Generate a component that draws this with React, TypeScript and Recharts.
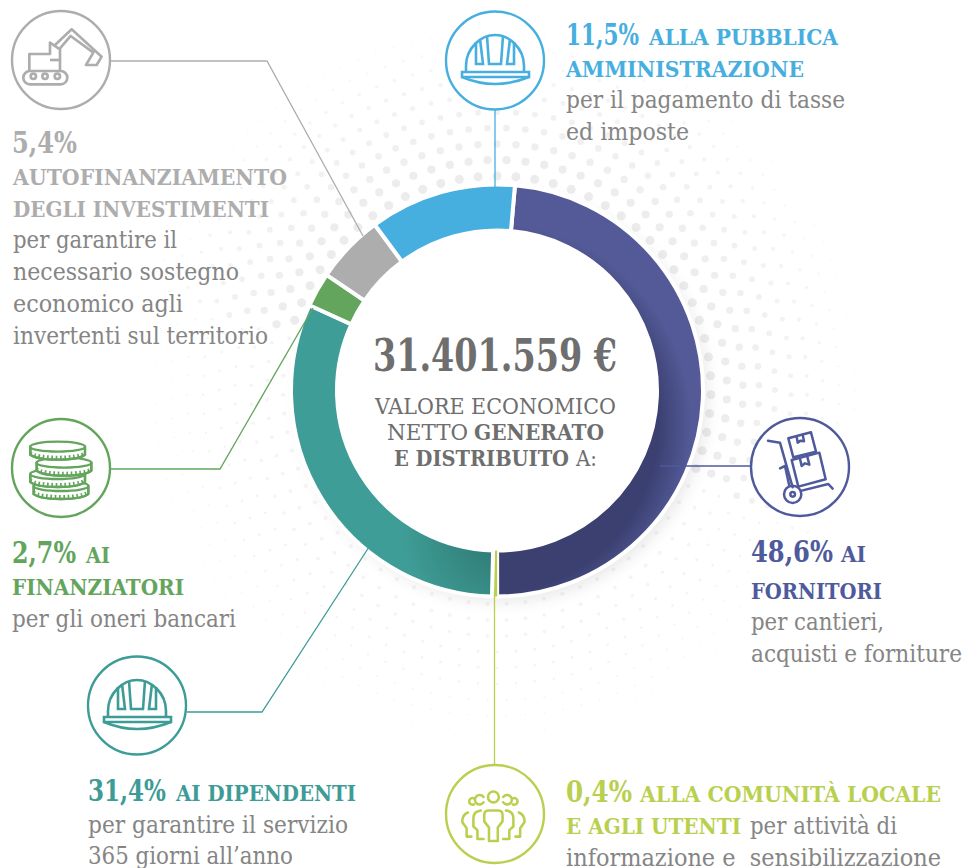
import React from 'react';
import { Cell, Pie, PieChart } from 'recharts';

const categories = ['Fornitori', 'Comunità locale e utenti', 'Dipendenti', 'Finanziatori', 'Autofinanziamento', 'Pubblica amministrazione'];
const shares = [48.6, 0.4, 31.4, 2.7, 5.4, 11.5];
const colors = ['url(#navyGrad)', '#b9d04f', 'url(#tealGrad)', '#63a55c', '#aeadae', '#46afe0'];
const total = '31.401.559 €';

const NAVY = '#4f5a9c';
const LIME = '#b9d04f';
const TEAL = '#3d9c96';
const GREEN = '#63a55c';
const GRAY = '#aeadad';
const BLUE = '#46afe0';
const BODY = '#858585';
const DARK = '#6e6e6e';

const tableData = categories.map((name, i) => ({ name, value: shares[i] }));
const pct = (v: number) => `${String(v).replace('.', ',')}%`;

// halftone dots behind the ring, decoration only
const dots: { x: number; y: number; r: number; o: number }[] = [];
for (let i = 0; i < 10; i++) {
  const rad = 214 + i * 16;
  const n = Math.round((2 * Math.PI * rad) / 19);
  for (let k = 0; k < n; k++) {
    const a = ((k + (i % 2) * 0.5) / n) * 2 * Math.PI;
    const deg = (a * 180) / Math.PI;
    const strong = deg < 115 || deg > 285;
    const r = strong ? (1 - i / 10) * 4 + 0.5 : (1 - i / 10) * 1.8 + 0.3;
    dots.push({ x: 497 + Math.sin(a) * rad, y: 390 - Math.cos(a) * rad, r, o: strong ? 1 - i * 0.07 : 0.6 });
  }
}

function T({ x, y, w, s, c, b, children }: any) {
  return (
    <text
      x={x}
      y={y}
      fontFamily="'DejaVu Serif Condensed', 'DejaVu Serif', serif"
      fontSize={s}
      fontWeight={b ? 700 : 400}
      fill={c}
      textLength={w}
      lengthAdjust="spacingAndGlyphs"
    >
      {children}
    </text>
  );
}

function Ring({ cx, cy, c }: any) {
  return <circle cx={cx} cy={cy} r={49} fill="#fff" stroke={c} strokeWidth={2.4} />;
}

function Helmet({ cx, cy, c }: any) {
  return (
    <g transform={`translate(${cx},${cy})`} fill="none" stroke={c} strokeWidth={2.6}>
      <path d="M-33,12 H34 V17 H-33 Z" />
      <path d="M-33,17 Q0,31 34,17" />
      <path d="M-29,12 V6 C-29,-12 -14,-25 0,-25 C14,-25 29,-12 29,6 V12" />
      <path d="M-8,-24 L-6,4 H6 L8,-24" />
      <path d="M-19,-18 V4 H-12 L-15,-21" />
      <path d="M19,-18 V4 H12 L15,-21" />
    </g>
  );
}

function Excavator() {
  return (
    <g transform="scale(0.3333)" fill="none" stroke={GRAY} strokeWidth={8} strokeLinejoin="round">
      <rect x={70} y={213} width={132} height={40} rx={20} />
      <circle cx={100} cy={229} r={8} />
      <circle cx={135} cy={229} r={8} />
      <circle cx={172} cy={229} r={8} />
      <path d="M88,210 V162 H150 V128 L180,148 V210" />
      <path d="M150,180 H180" />
      <path d="M165,135 L215,88 L305,170 L290,195 H258 L280,158 L212,108 L180,145" />
    </g>
  );
}

function Cart() {
  return (
    <g transform="translate(730,400) scale(0.3333)" fill="none" stroke={NAVY} strokeWidth={7.5} strokeLinejoin="round" strokeLinecap="round">
      <path d="M175,115 L243,97 L258,155 L190,172 Z" />
      <path d="M185,180 L268,158 L287,238 L205,260 Z" />
      <path d="M200,110 L203,128 L212,122 L222,124 L218,104" />
      <path d="M210,176 L215,198 L225,190 L238,194 L232,170" />
      <path d="M114,122 L150,128 L188,262" />
      <path d="M150,205 L165,198 L178,258" />
      <path d="M215,272 L295,252 L308,266" />
      <circle cx={188} cy={283} r={26} />
      <circle cx={188} cy={283} r={7} />
    </g>
  );
}

function Coin({ cx, cy }: any) {
  return (
    <g>
      <path
        d={`M${cx - 82},${cy} V${cy + 24} C${cx - 60},${cy + 44} ${cx + 60},${cy + 44} ${cx + 82},${cy + 24} V${cy} Z`}
        fill="#fff"
      />
      <path d={`M${cx - 82},${cy + 20} C${cx - 60},${cy + 38} ${cx + 60},${cy + 38} ${cx + 82},${cy + 20}`} strokeWidth={13} strokeDasharray="5 8" />
      <path d={`M${cx - 82},${cy} V${cy + 24} C${cx - 60},${cy + 44} ${cx + 60},${cy + 44} ${cx + 82},${cy + 24} V${cy}`} />
      <ellipse cx={cx} cy={cy} rx={82} ry={15} fill="#fff" />
    </g>
  );
}

function Coins() {
  return (
    <g transform="translate(0,400) scale(0.3333)" fill="none" stroke={GREEN} strokeWidth={7}>
      <Coin cx={183} cy={258} />
      <Coin cx={173} cy={222} />
      <Coin cx={192} cy={188} />
      <Coin cx={173} cy={140} />
    </g>
  );
}

function People() {
  return (
    <g transform="translate(430,740) scale(0.339)" fill="none" stroke={LIME} strokeWidth={7.5} strokeLinejoin="round" strokeLinecap="round">
      <circle cx={187} cy={168} r={16} />
      <path d="M158,168 A14,14 0 1 0 158,184" />
      <path d="M216,168 A14,14 0 1 1 216,184" />
      <path d="M130,172 A10,10 0 1 0 130,190" />
      <path d="M244,172 A10,10 0 1 1 244,190" />
      <path d="M172,208 H202 Q214,208 214,222 V240 L200,258 V298 H174 V258 L160,240 V222 Q160,208 172,208 Z" />
      <path d="M150,208 Q128,210 128,232 V255 L140,266 V292 H158" />
      <path d="M224,208 Q246,210 246,232 V255 L234,266 V292 H216" />
      <path d="M112,214 Q95,220 95,242 L108,260 V285 H122" />
      <path d="M262,214 Q279,220 279,242 L266,260 V285 H252" />
    </g>
  );
}

export default function App() {
  return (
    <div style={{ position: 'absolute', left: 0, top: 0, width: 969, height: 868, overflow: 'hidden', background: '#fff' }}>
      <svg width={969} height={868} style={{ position: 'absolute', left: 0, top: 0 }}>
        <defs>
          <radialGradient id="navyGrad" gradientUnits="userSpaceOnUse" cx={490} cy={425} r={210}>
            <stop offset="0%" stopColor="#3b4071" />
            <stop offset="80%" stopColor="#3b4071" />
            <stop offset="96%" stopColor="#535a97" />
            <stop offset="100%" stopColor="#535a97" />
          </radialGradient>
          <radialGradient id="tealGrad" gradientUnits="userSpaceOnUse" cx={505} cy={530} r={105}>
            <stop offset="0%" stopColor="#2c736e" />
            <stop offset="100%" stopColor="#3f9d97" />
          </radialGradient>
          <filter id="soft" x="-20%" y="-20%" width="140%" height="140%">
            <feGaussianBlur stdDeviation="9" />
          </filter>
        </defs>
        <g fill="#ececec">
          {dots.map((d, i) => (
            <circle key={i} cx={d.x} cy={d.y} r={d.r} opacity={d.o} />
          ))}
        </g>
        <circle cx={503} cy={397} r={203} fill="#000" opacity={0.1} filter="url(#soft)" />
        <circle cx={497} cy={390.5} r={170} fill="#fff" />
      </svg>

      <div style={{ position: 'absolute', left: 0, top: 0 }}>
        <PieChart width={969} height={868} margin={{ top: 0, right: 0, bottom: 0, left: 0 }}>
          <Pie
            data={tableData}
            dataKey="value"
            cx={497}
            cy={390.5}
            innerRadius={160}
            outerRadius={206}
            startAngle={85}
            endAngle={-275}
            stroke="#fff"
            strokeWidth={4}
            isAnimationActive={false}
          >
            {tableData.map((d, i) => (
              <Cell key={d.name} fill={colors[i]} stroke={i === 1 ? 'none' : '#fff'} />
            ))}
          </Pie>
        </PieChart>
      </div>

      <svg width={969} height={868} style={{ position: 'absolute', left: 0, top: 0 }}>
        <g fill="none" strokeWidth={1.3}>
          <path d="M111,61 H267 L363,236" stroke={GRAY} />
          <path d="M495,110 V205" stroke={BLUE} />
          <path d="M751,466 H660" stroke={NAVY} />
          <path d="M111,469 H220 L313,308" stroke={GREEN} />
          <path d="M187,712 H262 L369,547" stroke={TEAL} />
          <path d="M494.5,764 V592" stroke={LIME} />
        </g>

        <Ring cx={61} cy={60} c={GRAY} />
        <Excavator />
        <Ring cx={495} cy={60.5} c={BLUE} />
        <Helmet cx={495} cy={60} c={BLUE} />
        <Ring cx={800} cy={467} c={NAVY} />
        <Cart />
        <Ring cx={61} cy={468} c={GREEN} />
        <Coins />
        <Ring cx={137} cy={705.5} c={TEAL} />
        <Helmet cx={137} cy={705} c={TEAL} />
        <Ring cx={495} cy={814} c={LIME} />
        <People />

        <T x={373} y={371} w={244} s={44} c={DARK} b>{total}</T>
        <T x={375} y={414} w={241} s={22} c={DARK}>VALORE ECONOMICO</T>
        <T x={387} y={440} w={81} s={22} c={DARK}>NETTO</T>
        <T x={474} y={440} w={130} s={22} c={DARK} b>GENERATO</T>
        <T x={394} y={466} w={175} s={22} c={DARK} b>E DISTRIBUITO</T>
        <T x={576} y={466} w={21} s={22} c={DARK}>A:</T>

        <T x={12} y={153} w={65} s={30} c={GRAY} b>{pct(shares[4])}</T>
        <T x={13} y={185} w={274} s={23} c={GRAY} b>AUTOFINANZIAMENTO</T>
        <T x={13} y={217} w={256} s={23} c={GRAY} b>DEGLI INVESTIMENTI</T>
        <T x={13} y={248} w={164} s={24} c={BODY}>per garantire il</T>
        <T x={13} y={280} w={226} s={24} c={BODY}>necessario sostegno</T>
        <T x={13} y={312} w={170} s={24} c={BODY}>economico agli</T>
        <T x={13} y={344} w={255} s={24} c={BODY}>invertenti sul territorio</T>

        <T x={566} y={45} w={73} s={30} c={BLUE} b>{pct(shares[5])}</T>
        <T x={649} y={45} w={189} s={23} c={BLUE} b>ALLA PUBBLICA</T>
        <T x={566} y={77} w={238} s={23} c={BLUE} b>AMMINISTRAZIONE</T>
        <T x={566} y={108} w={279} s={24} c={BODY}>per il pagamento di tasse</T>
        <T x={566} y={140} w={123} s={24} c={BODY}>ed imposte</T>

        <T x={751} y={562} w={82} s={30} c={NAVY} b>{pct(shares[0])}</T>
        <T x={841} y={562} w={25} s={23} c={NAVY} b>AI</T>
        <T x={751} y={599} w={131} s={23} c={NAVY} b>FORNITORI</T>
        <T x={751} y={630} w={133} s={24} c={BODY}>per cantieri,</T>
        <T x={751} y={662} w={211} s={24} c={BODY}>acquisti e forniture</T>

        <T x={12} y={563} w={64} s={30} c={GREEN} b>{pct(shares[3])}</T>
        <T x={86} y={563} w={24} s={23} c={GREEN} b>AI</T>
        <T x={12} y={595} w={172} s={23} c={GREEN} b>FINANZIATORI</T>
        <T x={12} y={627} w={224} s={24} c={BODY}>per gli oneri bancari</T>

        <T x={88} y={801} w={78} s={30} c={TEAL} b>{pct(shares[2])}</T>
        <T x={176} y={801} w={180} s={23} c={TEAL} b>AI DIPENDENTI</T>
        <T x={88} y={833} w={260} s={24} c={BODY}>per garantire il servizio</T>
        <T x={88} y={864} w={205} s={24} c={BODY}>365 giorni all’anno</T>

        <T x={566} y={802} w={66} s={30} c={LIME} b>{pct(shares[1])}</T>
        <T x={640} y={802} w={301} s={23} c={LIME} b>ALLA COMUNITÀ LOCALE</T>
        <T x={566} y={834} w={175} s={23} c={LIME} b>E AGLI UTENTI</T>
        <T x={750} y={834} w={147} s={24} c={BODY}>per attività di</T>
        <T x={566} y={866} w={375} s={24} c={BODY}>informazione e{'\u00a0'} sensibilizzazione</T>
      </svg>
    </div>
  );
}
